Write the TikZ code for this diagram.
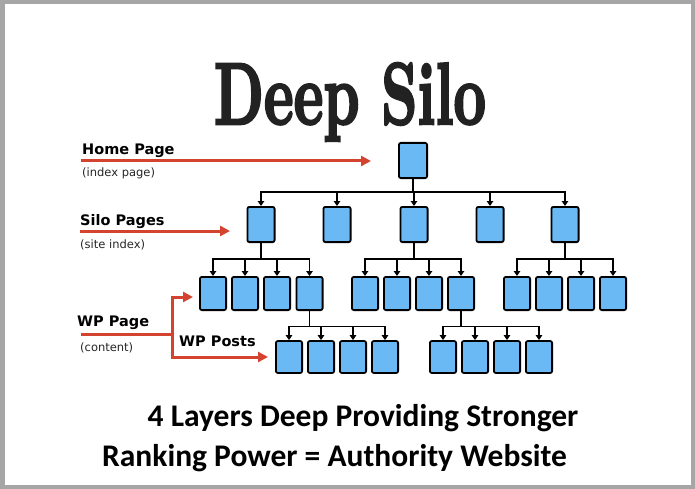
\documentclass[tikz,border=0pt]{standalone}
\usepackage{fontspec}
\usepackage{graphicx}
\usetikzlibrary{arrows.meta}
\newfontfamily\lblfont{DejaVu Sans}
\newfontfamily\capfont{Carlito}
\newfontface\titlefont{lmroman10-bold.otf}[FakeBold=3]
\definecolor{boxblue}{RGB}{106,184,244}
\definecolor{arrred}{RGB}{212,66,48}
\definecolor{framegray}{RGB}{166,166,166}
\definecolor{titlecol}{RGB}{34,34,34}
\begin{document}
\begin{tikzpicture}[x=1pt,y=-1pt,
  box/.style={draw=black, line width=1.8pt, fill=boxblue, rounded corners=2pt, inner sep=0pt, minimum width=26.2pt, minimum height=33.2pt},
  topbox/.style={box, minimum width=28.2pt, minimum height=35.2pt},
  postbox/.style={box, minimum width=26.2pt, minimum height=32pt},
  conn/.style={draw=black, line width=1.6pt, -{Triangle[length=5pt,width=6.5pt]}},
  redarr/.style={draw=arrred, line width=3pt, -{Triangle[length=10pt,width=10pt]}},
  redline/.style={draw=arrred, line width=3pt},
  lblbold/.style={font=\lblfont\bfseries\fontsize{14.5}{17}\selectfont, text=black, inner sep=0pt, anchor=base west},
  lblsmall/.style={font=\lblfont\fontsize{11.5}{14}\selectfont, text=black!85, inner sep=0pt, anchor=west},
  captxt/.style={font=\capfont\bfseries\fontsize{31.5}{36}\selectfont, text=black, inner sep=0pt, anchor=base west}
]
\useasboundingbox (0,0) rectangle (695,489);
\fill[white] (0,0) rectangle (695,489);
\draw[framegray, line width=4.5pt] (2.25,2.25) rectangle (692.75,486.75);

% title
\node[anchor=base, inner sep=0pt, text=titlecol] (title) at (350,124) {\resizebox{272pt}{61pt}{\titlefont\fontsize{88}{90}\selectfont Deep Silo}};

% boxes
\node[topbox] (home) at (413,160.5) {};
\foreach \n/\x in {s1/261,s2/337,s3/414,s4/490,s5/565}
  \node[box, minimum height=35.2pt, minimum width=27.2pt] (\n) at (\x,224.5) {};
\foreach \n/\x in {a1/213,a2/245,a3/277,a4/309.5,b1/365,b2/397,b3/429,b4/461,c1/517,c2/549,c3/581,c4/613}
  \node[box] (\n) at (\x,293.5) {};
\foreach \n/\x in {p1/289,p2/321,p3/353,p4/385,q1/443,q2/475,q3/507,q4/539}
  \node[postbox] (\n) at (\x,357) {};

% connectors level 2
\coordinate (h0) at (home.south |- 0,192);
\foreach \c in {s1,s2,s3,s4,s5}
  \draw[conn] (home.south) -- (h0) -| (\c.north);
% level 3
\coordinate (sa) at (s1.south |- 0,259);
\foreach \c in {a1,a2,a3,a4}
  \draw[conn] (s1.south) -- (sa) -| (\c.north);
\coordinate (sb) at (s3.south |- 0,259);
\foreach \c in {b1,b2,b3,b4}
  \draw[conn] (s3.south) -- (sb) -| (\c.north);
\coordinate (sc) at (s5.south |- 0,259);
\foreach \c in {c1,c2,c3,c4}
  \draw[conn] (s5.south) -- (sc) -| (\c.north);
% level 4
\coordinate (ap) at (a4.south |- 0,326.5);
\foreach \c in {p1,p2,p3,p4}
  \draw[conn] (a4.south) -- (ap) -| (\c.north);
\coordinate (bq) at (b4.south |- 0,326.5);
\foreach \c in {q1,q2,q3,q4}
  \draw[conn] (b4.south) -- (bq) -| (\c.north);

% left labels
\node[lblbold] (hpl) at (82,154) {Home Page};
\node[lblsmall] (hps) at (82,173.5) {(index page)};
\coordinate (hpa) at (81,161);
\coordinate (hpt) at (371,161);
\draw[redarr] (hpa) -- (hpt);

\node[lblbold] (spl) at (80,225) {Silo Pages};
\node[lblsmall] (sps) at (80,244.5) {(site index)};
\coordinate (spa) at (80,231);
\coordinate (spt) at (230,231);
\draw[redarr] (spa) -- (spt);

\node[lblbold] (wpl) at (77,326) {WP Page};
\node[lblsmall] (wps) at (80,348) {(content)};
\node[lblbold] (wpp) at (179,346) {WP Posts};
\coordinate (wpa) at (81,334);
\coordinate (wpj) at (172,334);
\coordinate (wpu) at (193,297);
\coordinate (wpd) at (268,357);
\draw[redline] (wpa) -- (wpj);
\draw[redarr] (wpj) |- (wpu);
\draw[redarr] (wpj) |- (wpd);

% bottom caption
\node[captxt] (cap1) at (147.5,426) {4 Layers Deep Providing Stronger};
\node[captxt] (cap2) at (102,466) {Ranking Power = Authority Website};
\end{tikzpicture}
\end{document}
